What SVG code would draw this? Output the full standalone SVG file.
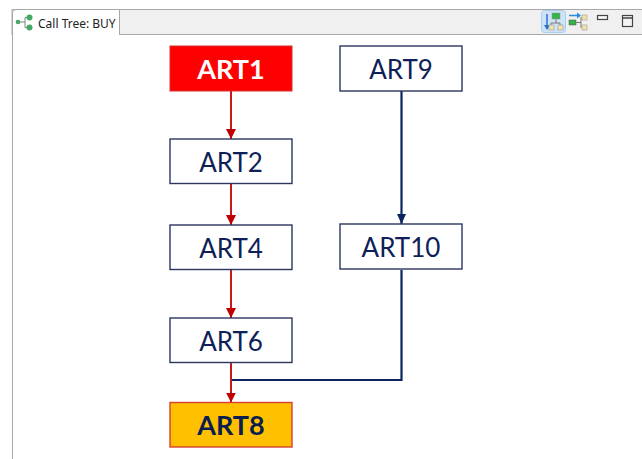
<svg xmlns="http://www.w3.org/2000/svg" width="642" height="459" viewBox="0 0 642 459">
<style>
.box{fill:#fff;stroke:#2c3660;stroke-width:1.4}
.t{font-family:Lato,"Liberation Sans",sans-serif;font-size:26px;fill:#0f1f58;text-anchor:middle}
.b{font-weight:700;font-size:27px}
.red{fill:none;stroke:#c00000;stroke-width:1.8}
.navy{fill:none;stroke:#0c2460;stroke-width:2.200}
</style>
<defs>
<marker id="ar" markerUnits="userSpaceOnUse" markerWidth="11" markerHeight="11" refX="10" refY="5.500" orient="auto"><path d="M0 0.500L10 5.500L0 10.500Z" fill="#c00000"/></marker>
<marker id="an" markerUnits="userSpaceOnUse" markerWidth="11" markerHeight="11" refX="10" refY="5.500" orient="auto"><path d="M0 1L10 5.500L0 10Z" fill="#0c2460"/></marker>
</defs>
<rect width="642" height="459" fill="#fff"/>
<g id="view-frame">
<rect x="12" y="9.500" width="631" height="25" fill="#f0f0f0" stroke="#a8a8a8"/>
<path d="M12.500 459V13Q12.500 9.500 16 9.500H119.500V34.500" fill="#fff" stroke="#a8a8a8"/>
<path d="M13 12H119V35H13Z" fill="#fff"/>
<path d="M12.500 34V459" stroke="#a8a8a8" fill="none"/>
<path d="M119.500 10V34.500H642" stroke="#a8a8a8" fill="none"/>
<g id="tab-icon" fill="#45a864">
<path d="M19 22H25M25 17.500V27.500M25 17.500H28M25 27.500H28" stroke="#7a8a80" stroke-width="1" fill="none"/>
<circle cx="18" cy="22" r="2.300"/><circle cx="29.500" cy="17.500" r="3"/><circle cx="29.500" cy="27.500" r="3"/>
</g>
<text x="38" y="27.500" font-family="'Noto Sans','Liberation Sans',sans-serif" font-size="12" fill="#222">Call Tree: BUY</text>
<g id="toolbar">
<rect x="541.500" y="10.500" width="24" height="22" rx="3" fill="#cfe3f7" stroke="#a9cdf0"/>
<path d="M547 14V29" stroke="#2a6fd0" stroke-width="1.500"/><path d="M544 25L547 30L550 25Z" fill="#2a6fd0"/>
<rect x="552" y="13" width="8" height="6" fill="#35b24a" stroke="#8a9a90" stroke-width=".5"/>
<path d="M556 19V23M551 27V23H560V27" stroke="#777" fill="none"/>
<rect x="549" y="25" width="5" height="5" fill="#f2e3a8" stroke="#999" stroke-width=".6"/>
<rect x="558" y="25" width="5" height="5" fill="#f2e3a8" stroke="#999" stroke-width=".6"/>
<path d="M569 15.500H578" stroke="#2a8ae0" stroke-width="1.500"/><path d="M577 12.500L581 15.500L577 18.500Z" fill="#2a8ae0"/>
<rect x="569" y="20" width="7" height="5" fill="#35b24a" stroke="#555" stroke-width=".5"/>
<path d="M576 22.500H581M581 17V28" stroke="#777" fill="none"/>
<rect x="582" y="15" width="5" height="5" fill="#f2e3a8" stroke="#999" stroke-width=".6"/>
<rect x="582" y="25" width="5" height="5" fill="#f2e3a8" stroke="#999" stroke-width=".6"/>
<rect x="597.500" y="15.500" width="10" height="4" fill="#f4f4f4" stroke="#444" stroke-width="1.200"/>
<rect x="622.500" y="15.500" width="10" height="11" fill="#f4f4f4" stroke="#444" stroke-width="1.200"/>
<path d="M622 18H633" stroke="#444" stroke-width="1.500"/>
</g>
</g>
<g id="connectors">
<path class="red" d="M231 91V139" marker-end="url(#ar)"/>
<path class="red" d="M231 184V225" marker-end="url(#ar)"/>
<path class="red" d="M231 270V318" marker-end="url(#ar)"/>
<path class="navy" d="M401.500 91V224" marker-end="url(#an)"/>
<path class="navy" d="M401.500 270V380H232"/>
<path class="red" d="M231 363V402.500" marker-end="url(#ar)"/>
</g>
<g id="ART1"><rect x="170" y="46" width="122" height="45" fill="#f00" stroke="#d83030" stroke-width="1"/><text class="t b" x="231" y="79" style="fill:#fff">ART1</text></g>
<g id="ART9"><rect class="box" x="340" y="46" width="122" height="45"/><text class="t" x="401" y="78.500">ART9</text></g>
<g id="ART2"><rect class="box" x="170" y="139" width="122" height="44.500"/><text class="t" x="231" y="171.500">ART2</text></g>
<g id="ART4"><rect class="box" x="170" y="225" width="122" height="44.500"/><text class="t" x="231" y="257.500">ART4</text></g>
<g id="ART10"><rect class="box" x="340" y="224" width="122" height="45"/><text class="t" x="401" y="256.500">ART10</text></g>
<g id="ART6"><rect class="box" x="170" y="318" width="122" height="44.500"/><text class="t" x="231" y="350.500">ART6</text></g>
<g id="ART8"><rect x="170" y="402.500" width="122" height="44.500" fill="#ffc000" stroke="#d84030" stroke-width="1.400"/><text class="t b" x="231" y="435" style="fill:#0a1c50">ART8</text></g>
</svg>
